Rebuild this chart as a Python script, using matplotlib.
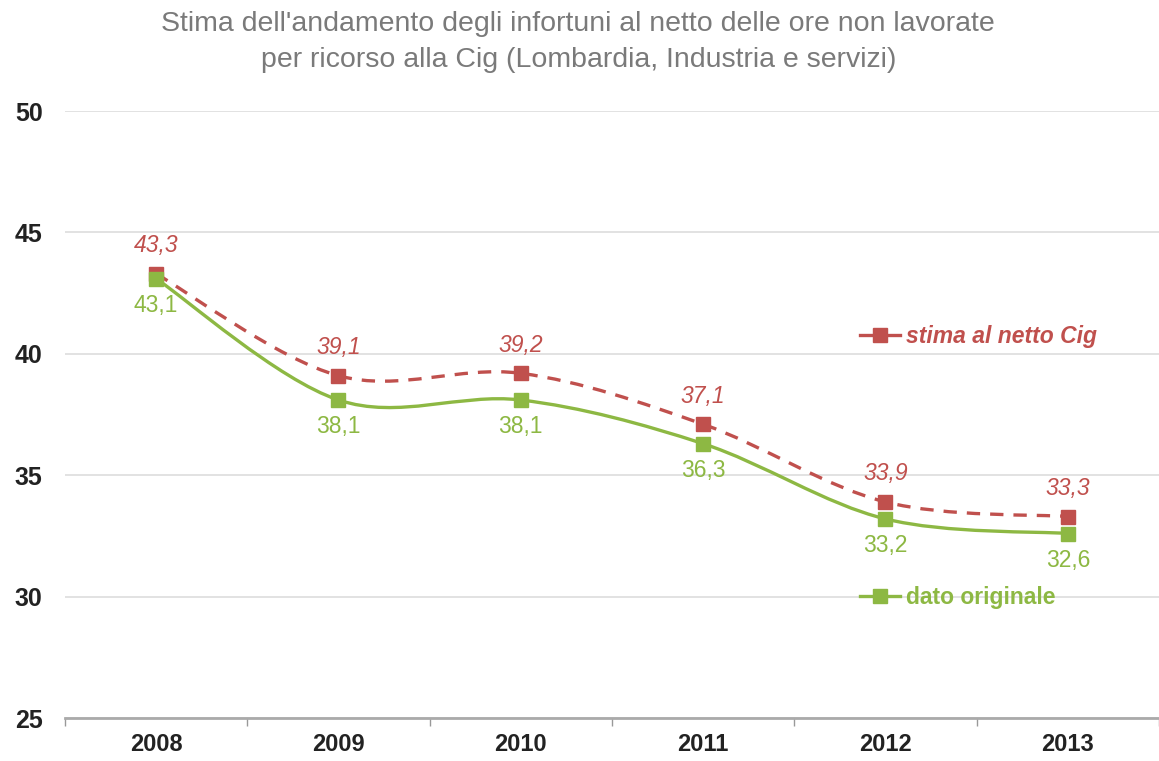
import numpy as np
import matplotlib.pyplot as plt
from matplotlib.path import Path
from matplotlib.patches import PathPatch
from matplotlib.lines import Line2D

plt.rcParams['font.family'] = ['Liberation Sans', 'DejaVu Sans']

years = ["2008", "2009", "2010", "2011", "2012", "2013"]
stima_cig = [43.3, 39.1, 39.2, 37.1, 33.9, 33.3]
dato_orig = [43.1, 38.1, 38.1, 36.3, 33.2, 32.6]
y_ticks = [25, 30, 35, 40, 45, 50]

RED = "#C0504D"
GREEN = "#8DB843"
TITLE = ("Stima dell'andamento degli infortuni al netto delle ore non lavorate\n"
         "per ricorso alla Cig (Lombardia, Industria e servizi)")


def smooth_path(xs, ys):
    # Catmull-Rom style bezier, like Excel "smoothed line"
    pts = np.column_stack([xs, ys]).astype(float)
    n = len(pts)
    verts = [pts[0]]
    codes = [Path.MOVETO]
    for i in range(n - 1):
        p0 = pts[max(i - 1, 0)]
        p1 = pts[i]
        p2 = pts[i + 1]
        p3 = pts[min(i + 2, n - 1)]
        c1 = p1 + (p2 - p0) / 6.0
        c2 = p2 - (p3 - p1) / 6.0
        verts += [c1, c2, p2]
        codes += [Path.CURVE4] * 3
    return Path(verts, codes)


def main():
    fig = plt.figure(figsize=(11.59, 7.61), dpi=100)
    ax = fig.add_axes([0.056, 0.0565, 0.944, 0.7975])

    x = np.arange(len(years))

    ax.add_patch(PathPatch(smooth_path(x, stima_cig), fill=False, edgecolor=RED,
                           lw=2.4, linestyle=(0, (4, 3)), zorder=3))
    ax.plot(x, stima_cig, linestyle="none", marker="s", ms=9.5, color=RED, zorder=4)

    ax.add_patch(PathPatch(smooth_path(x, dato_orig), fill=False, edgecolor=GREEN,
                           lw=2.4, zorder=5))
    ax.plot(x, dato_orig, linestyle="none", marker="s", ms=9.5, color=GREEN, zorder=6)

    for xi, v in zip(x, stima_cig):
        ax.annotate(f"{v:.1f}".replace(".", ","), (xi, v), xytext=(0, 12),
                    textcoords="offset points", ha="center", va="bottom",
                    color=RED, fontsize=16.5, fontstyle="italic")
    for xi, v in zip(x, dato_orig):
        ax.annotate(f"{v:.1f}".replace(".", ","), (xi, v), xytext=(0, -11),
                    textcoords="offset points", ha="center", va="top",
                    color=GREEN, fontsize=16.5)

    ax.set_xlim(-0.5, len(years) - 0.5)
    ax.set_ylim(25, 50)
    ax.set_yticks(y_ticks)
    ax.set_yticklabels([str(t) for t in y_ticks], fontsize=18, fontweight="bold",
                       color="#222222")
    ax.set_xticks(x)
    ax.set_xticklabels(years, fontsize=17, fontweight="bold", color="#222222")
    ax.tick_params(axis="x", length=0, pad=11)
    ax.set_xticks(np.arange(len(years) + 1) - 0.5, minor=True)
    ax.tick_params(axis="x", which="minor", length=6, color="#999999", width=1)
    ax.tick_params(axis="y", length=0, pad=16)

    ax.grid(axis="y", color="#DDDDDD", lw=1.2)
    ax.set_axisbelow(True)
    for s in ["top", "right", "left"]:
        ax.spines[s].set_visible(False)
    ax.spines["bottom"].set_color("#AAAAAA")
    ax.spines["bottom"].set_linewidth(2)

    h_red = Line2D([], [], color=RED, lw=2.4, marker="s", ms=9.5)
    h_green = Line2D([], [], color=GREEN, lw=2.4, marker="s", ms=9.5)
    leg1 = ax.legend([h_red], ["stima al netto Cig"], loc="center left",
                     bbox_to_anchor=(0.727, 0.629), frameon=False, handlelength=1.75,
                     handletextpad=0.25, borderpad=0, borderaxespad=0, labelcolor=RED,
                     prop={"size": 16.5, "weight": "bold", "style": "italic"})
    ax.add_artist(leg1)
    ax.legend([h_green], ["dato originale"], loc="center left",
              bbox_to_anchor=(0.727, 0.199), frameon=False, handlelength=1.75,
              handletextpad=0.25, borderpad=0, borderaxespad=0, labelcolor=GREEN,
              prop={"size": 16.5, "weight": "bold"})

    fig.text(0.499, 0.986, TITLE, ha="center", va="top", fontsize=20.5,
             color="#7A7A7A", linespacing=1.5)

    fig.savefig("out.png", dpi=100)


if __name__ == "__main__":
    main()
